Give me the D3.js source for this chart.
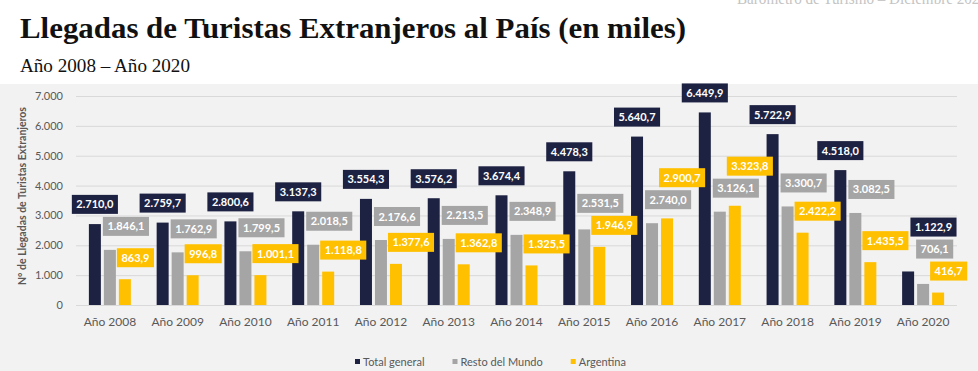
<!DOCTYPE html>
<html>
<head>
<meta charset="utf-8">
<script src="https://cdn.jsdelivr.net/npm/d3@7"></script>
<style>
    body { margin: 0; background: #fff; }
    svg { display: block; }
</style>
</head>
<body>
<svg width="978" height="371"></svg>
<script>
// Datos del grafico (en miles)
var years = ["Año 2008", "Año 2009", "Año 2010", "Año 2011", "Año 2012", "Año 2013", "Año 2014",
    "Año 2015", "Año 2016", "Año 2017", "Año 2018", "Año 2019", "Año 2020"];
var seriesNames = ["Total general", "Resto del Mundo", "Argentina"];
var totalGeneral = [2710.0, 2759.7, 2800.6, 3137.3, 3554.3, 3576.2, 3674.4, 4478.3, 5640.7, 6449.9, 5722.9, 4518.0, 1122.9];
var restoMundo = [1846.1, 1762.9, 1799.5, 2018.5, 2176.6, 2213.5, 2348.9, 2531.5, 2740.0, 3126.1, 3300.7, 3082.5, 706.1];
var argentina = [863.9, 996.8, 1001.1, 1118.8, 1377.6, 1362.8, 1325.5, 1946.9, 2900.7, 3323.8, 2422.2, 1435.5, 416.7];
var yTicks = [0, 1000, 2000, 3000, 4000, 5000, 6000, 7000];

var colors = ["#1e2242", "#a5a5a5", "#ffc000"];
var series = seriesNames.map(function(n, j) {
    return { name: n, values: [totalGeneral, restoMundo, argentina][j], color: colors[j] };
});

// Formato en español
var es = d3.formatLocale({ decimal: ",", thousands: ".", grouping: [3], currency: ["", ""] });
var fmtLabel = es.format(",.1f"),
    fmtTick = es.format(",.0f");

var svg = d3.select("svg"),
    margin = { top: 96, left: 76, right: 21, bottom: 66 },
    W = +svg.attr("width"),
    H = +svg.attr("height");
var font = "Lato, 'Open Sans', sans-serif";

// Encabezado
svg.append("text")
    .attr("x", 737).attr("y", 4)
    .attr("font-family", "'Liberation Serif', serif")
    .attr("font-size", 16)
    .attr("fill", "#c4c4c4")
    .attr("textLength", 250).attr("lengthAdjust", "spacingAndGlyphs")
    .text("Barómetro de Turismo – Diciembre 2020");

svg.append("text")
    .attr("x", 20).attr("y", 38)
    .attr("font-family", "'Liberation Serif', serif")
    .attr("font-weight", "bold")
    .attr("font-size", 30)
    .attr("fill", "#111")
    .attr("textLength", 666).attr("lengthAdjust", "spacingAndGlyphs")
    .text("Llegadas de Turistas Extranjeros al País (en miles)");

svg.append("text")
    .attr("x", 20).attr("y", 72)
    .attr("font-family", "'Liberation Serif', serif")
    .attr("font-size", 19)
    .attr("fill", "#111")
    .attr("textLength", 170).attr("lengthAdjust", "spacingAndGlyphs")
    .text("Año 2008 – Año 2020");

// fondo gris del panel
svg.append("rect")
    .attr("x", 0).attr("y", 84)
    .attr("width", W).attr("height", H - 84)
    .attr("fill", "#f2f2f2");

// Escalas
var x0 = d3.scaleBand().domain(years).range([margin.left, W - margin.right]),
    x1 = d3.scaleBand().domain(seriesNames).range([-21, 21]).paddingInner(0.2),
    y = d3.scaleLinear().domain([0, 7000]).range([H - margin.bottom, margin.top]);

// Grilla y eje Y
var gy = svg.append("g")
    .attr("transform", "translate(" + margin.left + ",0)")
    .call(d3.axisLeft(y).tickValues(yTicks).tickFormat(fmtTick)
        .tickSize(-(W - margin.left - margin.right)).tickPadding(13));
gy.select(".domain").remove();
gy.selectAll("line").attr("stroke", "#d9d9d9");
gy.selectAll("text").attr("fill", "#595959").attr("font-size", 11).attr("font-family", font);

svg.append("text")
    .attr("transform", "translate(26,196) rotate(-90)")
    .attr("text-anchor", "middle")
    .attr("font-family", font)
    .attr("font-weight", "bold")
    .attr("font-size", 10.5)
    .attr("fill", "#595959")
    .text("N° de Llegadas de Turistas Extranjeros");

// Eje X
var gx = svg.append("g")
    .attr("transform", "translate(0," + y(0) + ")")
    .call(d3.axisBottom(x0).tickSize(0).tickPadding(12));
gx.select(".domain").remove();
gx.selectAll("text").attr("fill", "#595959").attr("font-size", 12).attr("font-family", font);

// Barras
var groups = svg.append("g").selectAll("g")
    .data(years)
    .enter().append("g")
    .attr("transform", function(d) { return "translate(" + (x0(d) + x0.bandwidth() / 2) + ",0)"; });

groups.selectAll("rect")
    .data(function(d, i) { return series.map(function(s) { return { s: s, v: s.values[i] }; }); })
    .enter().append("rect")
    .attr("x", function(d) { return x1(d.s.name); })
    .attr("width", x1.bandwidth())
    .attr("y", function(d) { return y(d.v); })
    .attr("height", function(d) { return y(0) - y(d.v); })
    .attr("fill", function(d) { return d.s.color; });

// Etiquetas con recuadro: se apilan para que no se pisen
var gap = [10, 14, 12], STACK = 3, BOX_H = 19;
var labelLayer = svg.append("g");
var placedAll = [];

years.forEach(function(yr, i) {
    var cx = x0(yr) + x0.bandwidth() / 2;
    var bars = series.map(function(s) {
        var l = cx + x1(s.name);
        return { left: l, right: l + x1.bandwidth(), top: y(s.values[i]), bottom: y(0) };
    });
    var boxes = series.map(function(s, j) {
        var v = s.values[i];
        var t = labelLayer.append("text")
            .attr("font-family", font)
            .attr("font-weight", "bold")
            .attr("font-size", 11)
            .attr("fill", "#fff")
            .attr("text-anchor", "middle")
            .text(fmtLabel(v));
        var w = t.node().getComputedTextLength() + 9;
        var left = j === 0 ? bars[0].left + x1.bandwidth() / 2 - w / 2 : bars[j].left - j + 1 - 1;
        return { j: j, t: t, w: w, left: left, bottom: bars[j].top - gap[j] };
    });

    var done = [];
    boxes.slice().sort(function(a, b) { return b.bottom - a.bottom; }).forEach(function(b) {
        var moved = true;
        while (moved) {
            moved = false;
            done.concat(bars).forEach(function(o) {
                if (b.left < o.right && b.left + b.w > o.left &&
                    b.bottom > o.top - STACK && b.bottom - BOX_H < o.bottom + STACK) {
                    b.bottom = o.top - STACK;
                    moved = true;
                }
            });
        }
        done.push({ left: b.left, right: b.left + b.w, top: b.bottom - BOX_H, bottom: b.bottom });
    });

    // si choca con etiquetas del año anterior, correr a la derecha
    boxes.forEach(function(b) {
        placedAll.forEach(function(o) {
            if (b.left < o.right && b.left + b.w > o.left &&
                b.bottom > o.top && b.bottom - BOX_H < o.bottom) {
                b.left = o.right + 2;
            }
        });
    });

    boxes.forEach(function(b) {
        labelLayer.insert("rect", "text")
            .attr("x", b.left).attr("y", b.bottom - BOX_H)
            .attr("width", b.w).attr("height", BOX_H)
            .attr("fill", series[b.j].color);
        b.t.attr("x", b.left + b.w / 2).attr("y", b.bottom - 5.5);
        placedAll.push({ left: b.left, right: b.left + b.w, top: b.bottom - BOX_H, bottom: b.bottom });
    });
});

// Leyenda
var legend = svg.append("g").attr("transform", "translate(355,362)");
var lx = 0;
series.forEach(function(s) {
    var it = legend.append("g").attr("transform", "translate(" + lx + ",0)");
    it.append("rect").attr("x", 0).attr("y", -3).attr("width", 5).attr("height", 5).attr("fill", s.color);
    var t = it.append("text")
        .attr("x", 8).attr("y", 4)
        .attr("font-family", font)
        .attr("font-size", 11)
        .attr("fill", "#595959")
        .text(s.name);
    lx += 8 + t.node().getComputedTextLength() + 28;
});
</script>
</body>
</html>
